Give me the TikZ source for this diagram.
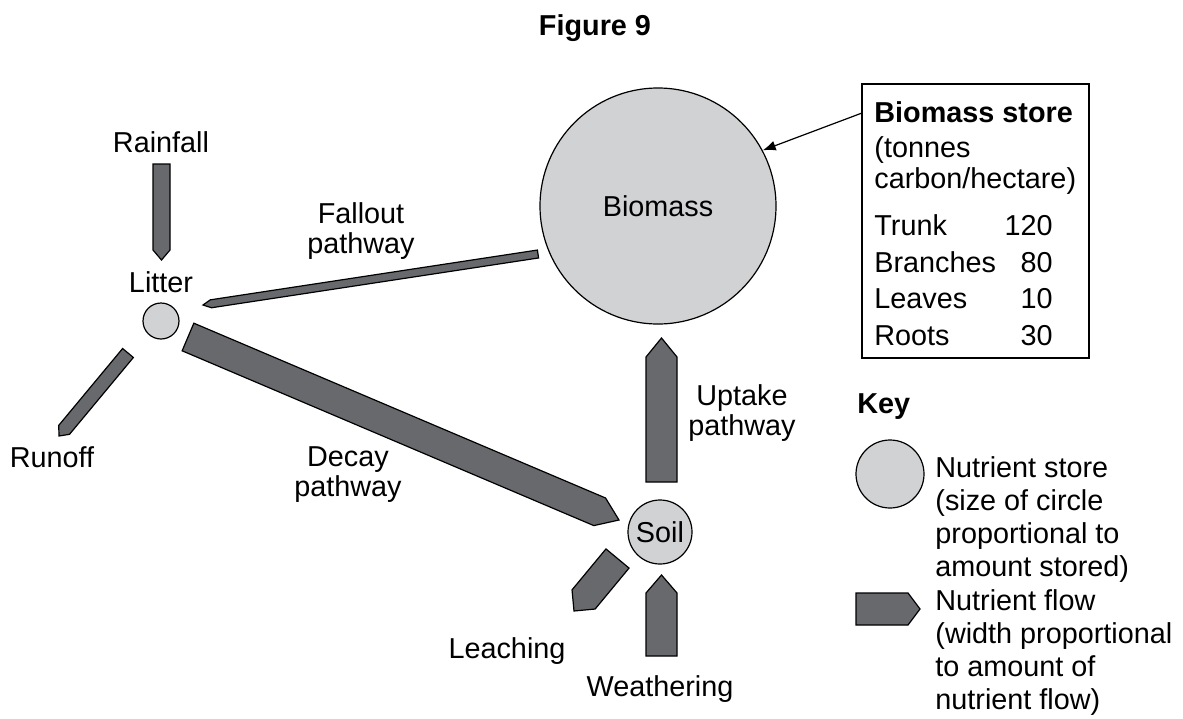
\documentclass[tikz,border=0pt]{standalone}
\usepackage{fontspec}
\setmainfont{Liberation Sans}
\usepackage{tikz}
\usetikzlibrary{arrows.meta,calc}

\definecolor{flowgray}{RGB}{104,105,109}
\definecolor{storegray}{RGB}{209,210,212}

\tikzset{
  store/.style={circle,draw,fill=storegray,line width=0.6pt,inner sep=0pt},
  flowarrow/.style={fill=flowgray,draw=black,line width=0.6pt,line join=miter},
  lbl/.style={inner sep=0pt,font=\fontsize{14.4}{15}\selectfont},
  keytext/.style={lbl,align=left,anchor=base west,font=\fontsize{14.4}{16.5}\selectfont},
}

% flow arrow: tail, tip, half width, head length
\newcommand{\nflow}[4]{%
  \coordinate (flow-s) at ($(#2)!#4!(#1)$);
  \draw[flowarrow] ($(#1)!#3!90:(#2)$) -- ($(flow-s)!#3!-90:(#1)$) -- (#2)
    -- ($(flow-s)!#3!90:(#1)$) -- ($(#1)!#3!-90:(#2)$) -- cycle;
}

\begin{document}
\begin{tikzpicture}[x=0.5pt,y=-0.5pt]
	\useasboundingbox (0,0) rectangle (1183,718);
	\node [lbl,anchor=base,font=\fontsize{14.4}{15}\selectfont\bfseries] (title) at (595,35) {Figure 9};

	% stores
	\node [store,minimum size=118pt] (biomass) at (658,206) {\fontsize{14.4}{15}\selectfont Biomass};
	\node [store,minimum size=18pt] (litter) at (161,321) {};
	\node [store,minimum size=32pt] (soil) at (660,532) {\fontsize{14.4}{15}\selectfont Soil};

	% flows
	\coordinate (rain-t) at (161.5,164);  \coordinate (rain-h) at (161.5,260);
	\coordinate (fall-t) at (538,254);    \coordinate (fall-h) at (203,305);
	\coordinate (decay-t) at (188,337);   \coordinate (decay-h) at (619,520);
	\coordinate (run-t) at (128,353);     \coordinate (run-h) at (59,436);
	\coordinate (up-t) at (661.5,482);    \coordinate (up-h) at (661.5,338);
	\coordinate (weath-t) at (661.5,656); \coordinate (weath-h) at (661.5,575);
	\coordinate (leach-t) at (617.5,558.5); \coordinate (leach-h) at (574,611);
	\nflow{rain-t}{rain-h}{4.25pt}{5pt}
	\nflow{fall-t}{fall-h}{2pt}{4pt}
	\nflow{decay-t}{decay-h}{7.5pt}{10.5pt}
	\nflow{run-t}{run-h}{3.5pt}{4pt}
	\nflow{up-t}{up-h}{7.75pt}{9.5pt}
	\nflow{weath-t}{weath-h}{7.75pt}{9pt}
	\nflow{leach-t}{leach-h}{7.5pt}{7.5pt}

	% labels
	\node [lbl,anchor=base] (rainfall) at (161,152) {Rainfall};
	\node [lbl,anchor=base] (littertxt) at (161,292) {Litter};
	\node [lbl,anchor=base] (runoff) at (52,467) {Runoff};
	\node [lbl,anchor=base] (leaching) at (507,658) {Leaching};
	\node [lbl,anchor=base] (weathering) at (660,696) {Weathering};
	\node [lbl,anchor=base,align=center] (fallout) at (361,253) {Fallout\\pathway};
	\node [lbl,anchor=base,align=center] (decay) at (348,496) {Decay\\pathway};
	\node [lbl,anchor=base,align=center] (uptake) at (742,435) {Uptake\\pathway};

	% biomass store table
	\node [draw,line width=0.6pt,minimum width=113.5pt,minimum height=137pt,inner sep=0pt] (storebox) at (975.5,221) {};
	\coordinate (ptr) at (862,113);
	\draw [line width=0.6pt,-{Latex[length=6.5pt,width=5pt]}] (ptr) -- (biomass.28);
	\node [lbl,anchor=base west,font=\fontsize{14.4}{15}\selectfont\bfseries] (boxhead) at (874,122) {Biomass store};
	\node [lbl,anchor=base west] (boxunit1) at (874,157) {(tonnes};
	\node [lbl,anchor=base west] (boxunit2) at (874,188) {carbon/hectare)};
	\foreach \part/\amount/\y in {Trunk/120/235, Branches/80/272, Leaves/10/308, Roots/30/345} {
		\node [lbl,anchor=base west] (part-\part) at (874,\y) {\part};
		\node [lbl,anchor=base east] (amount-\part) at (1053,\y) {\amount};
	}

	% key
	\node [lbl,anchor=base west,font=\fontsize{14.4}{15}\selectfont\bfseries] (key) at (857,413) {Key};
	\node [store,minimum size=34pt] (keystore) at (890,474) {};
	\node [keytext] (keystoretxt) at (935,576) {Nutrient store\\(size of circle\\proportional to\\amount stored)};
	\coordinate (keyflow-t) at (856,609); \coordinate (keyflow-h) at (920,609);
	\nflow{keyflow-t}{keyflow-h}{8pt}{6pt}
	\node [keytext] (keyflowtxt) at (935,709) {Nutrient flow\\(width proportional\\to amount of\\nutrient flow)};
\end{tikzpicture}
\end{document}
